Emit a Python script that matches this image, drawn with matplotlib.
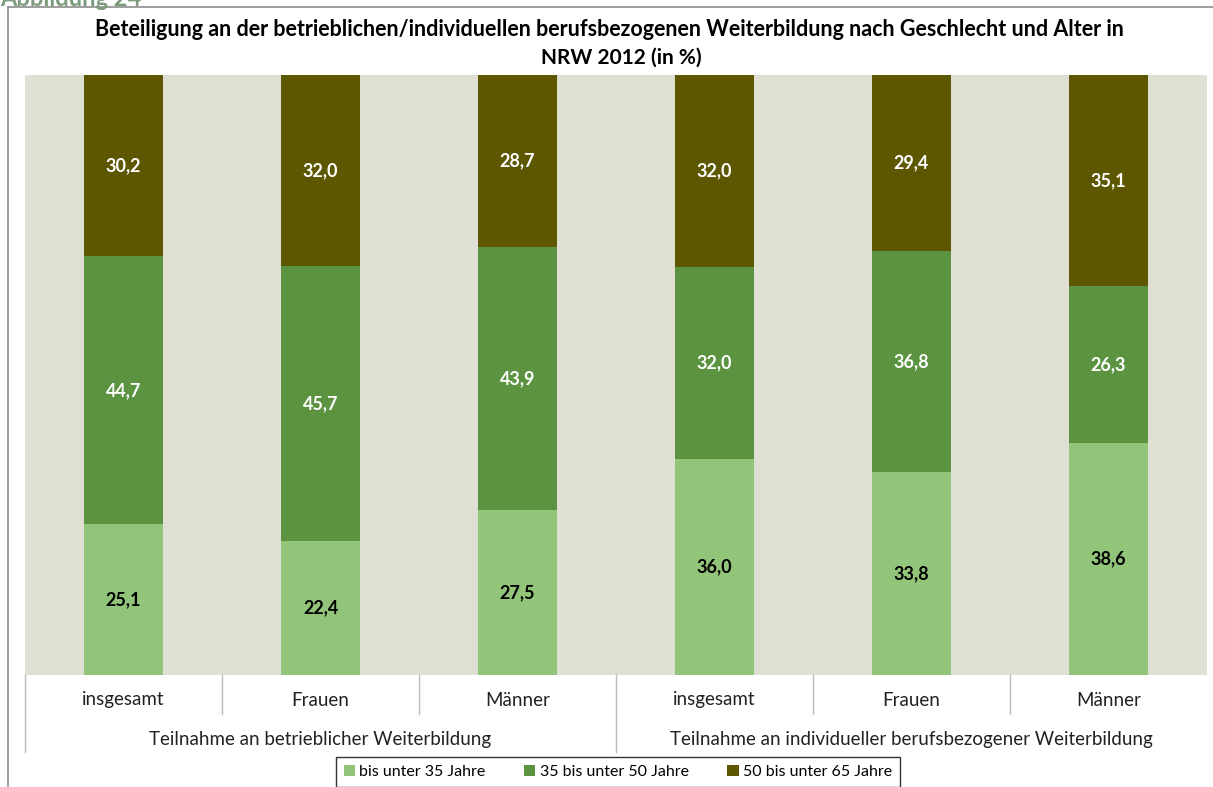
import matplotlib
matplotlib.use("Agg")
import matplotlib.pyplot as plt
from matplotlib.patches import Patch
from matplotlib.lines import Line2D

plt.rcParams['font.family'] = ['Lato', 'DejaVu Sans']

categories = ["insgesamt", "Frauen", "Männer", "insgesamt", "Frauen", "Männer"]
groups = ["Teilnahme an betrieblicher Weiterbildung",
          "Teilnahme an individueller berufsbezogener Weiterbildung"]
series_names = ["bis unter 35 Jahre", "35 bis unter 50 Jahre", "50 bis unter 65 Jahre"]
under35 = [25.1, 22.4, 27.5, 36.0, 33.8, 38.6]
from35to50 = [44.7, 45.7, 43.9, 32.0, 36.8, 26.3]
from50to65 = [30.2, 32.0, 28.7, 32.0, 29.4, 35.1]
title = ("Beteiligung an der betrieblichen/individuellen berufsbezogenen Weiterbildung nach Geschlecht und Alter in\n"
         "NRW 2012 (in %)")

colors = ["#92C47A", "#5B9340", "#5C5700"]
label_colors = ["black", "white", "white"]

W, H = 1213, 787
fig = plt.figure(figsize=(W / 100, H / 100), dpi=100)

def fx(px):
    return px / W

def fy(py):
    return 1 - py / H

# outer frame
fig.add_artist(Line2D([fx(8), fx(8)], [fy(7), 0], color="#8C8C8C", lw=1.2))
fig.add_artist(Line2D([fx(8), 1], [fy(7), fy(7)], color="#8C8C8C", lw=1.2))
fig.text(fx(0), fy(6), "Abbildung 24", fontsize=17, fontweight="bold",
         color="#7C9A7C", ha="left", va="baseline")

ax = fig.add_axes([fx(25), fy(675), fx(1207) - fx(25), fy(75) - fy(675)])
ax.set_facecolor("#DFDFD3")
x = list(range(len(categories)))
bottom = [0] * len(x)
for vals, c, lc in zip([under35, from35to50, from50to65], colors, label_colors):
    ax.bar(x, vals, width=0.4, bottom=bottom, color=c, linewidth=0)
    for xi, v, b in zip(x, vals, bottom):
        ax.text(xi, b + v / 2, f"{v:.1f}".replace(".", ","), ha="center", va="center",
                fontsize=13, fontweight="bold", color=lc)
    bottom = [b + v for b, v in zip(bottom, vals)]

ax.set_xlim(-0.5, 5.5)
ax.set_ylim(0, 100)
ax.set_xticks([])
ax.set_yticks([])
for s in ax.spines.values():
    s.set_visible(False)

title_lines = title.split("\n")
fig.text(fx(609), fy(30), title_lines[0], ha="center", va="center", fontsize=15.5,
         fontweight="bold")
fig.text(fx(621), fy(58), title_lines[1], ha="center", va="center", fontsize=15,
         fontweight="bold")

tr = ax.get_xaxis_transform()
def ay(py):
    return (675 - py) / 600.0

for xi, cat in zip(x, categories):
    ax.text(xi, ay(700), cat, transform=tr, ha="center", va="center", fontsize=13.5,
            clip_on=False, color="#222222")
for gi, g in enumerate(groups):
    ax.text(gi * 3 + 1, ay(740), g, transform=tr, ha="center", va="center",
            fontsize=13.5, clip_on=False, color="#222222")
for sx in [0.5, 1.5, 3.5, 4.5]:
    ax.plot([sx, sx], [0, ay(714)], transform=tr, color="#BBBBBB", lw=1, clip_on=False)
for sx in [-0.5, 2.5]:
    ax.plot([sx, sx], [0, ay(752)], transform=tr, color="#BBBBBB", lw=1, clip_on=False)

handles = [Patch(facecolor=c, edgecolor="none") for c in colors]
leg = fig.legend(handles, series_names, loc="upper center", ncol=3,
                 bbox_to_anchor=(fx(618), fy(757)), fontsize=11.5, frameon=True,
                 fancybox=False, edgecolor="black", handlelength=0.7, handleheight=0.7,
                 handletextpad=0.3, columnspacing=2.4, borderpad=0.5, borderaxespad=0)
leg._legend_box.align = "center"
leg.get_frame().set_linewidth(1.0)

fig.savefig("out.png", dpi=100)
